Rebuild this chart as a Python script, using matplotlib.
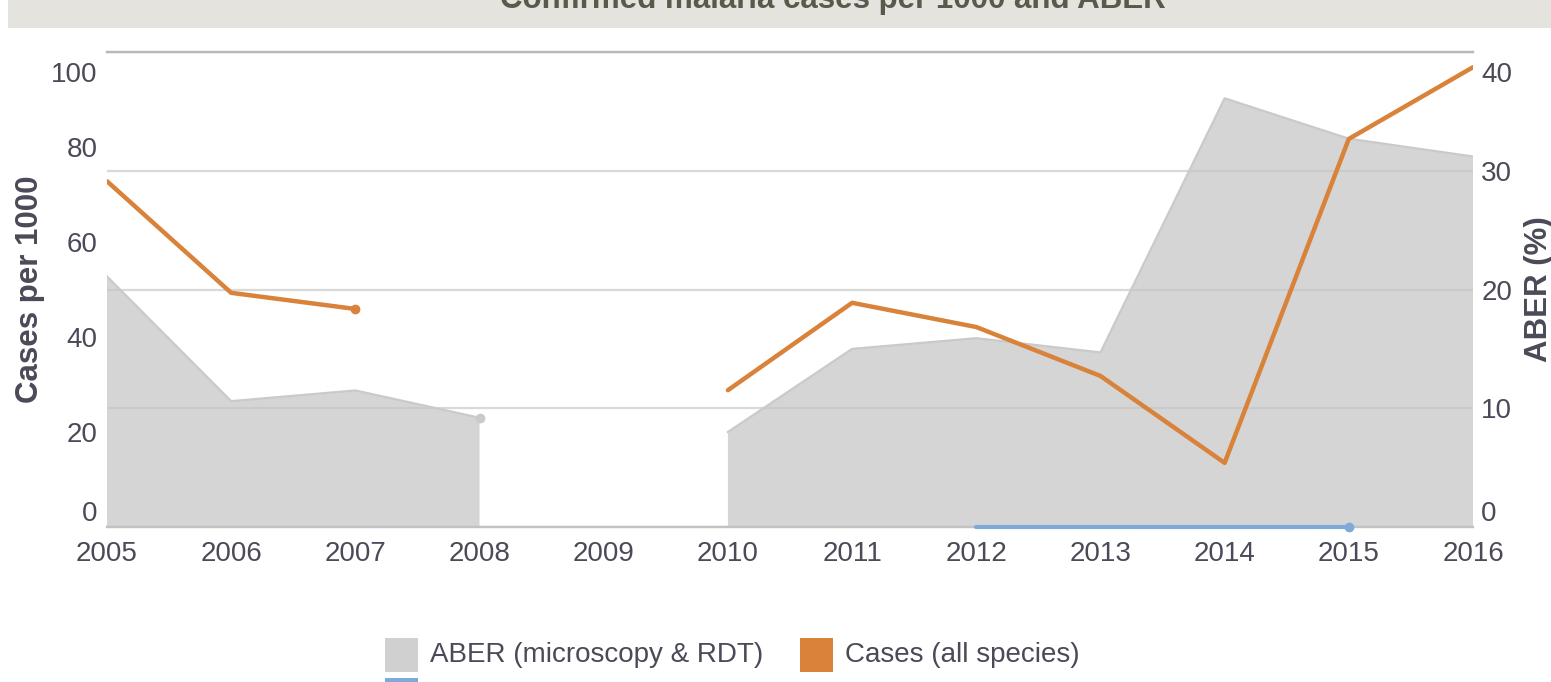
import numpy as np
import matplotlib
matplotlib.use("Agg")
import matplotlib.pyplot as plt
import matplotlib.transforms as mtransforms
from matplotlib.patches import Rectangle

plt.rcParams['font.family'] = ['Liberation Sans', 'DejaVu Sans']

# Données
years = [2005, 2006, 2007, 2008, 2009, 2010, 2011, 2012, 2013, 2014, 2015, 2016]
aber = [21.1, 10.6, 11.5, 9.2, None, 8.0, 15.0, 15.9, 14.7, 36.1, 32.7, 31.2]
cases = [72.8, 49.3, 45.9, None, None, 28.8, 47.2, 42.1, 31.8, 13.5, 81.7, 96.8]
other = [None, None, None, None, None, None, None, 0, 0, 0, 0, None]

left_ticks = [0, 20, 40, 60, 80, 100]
right_ticks = [0, 10, 20, 30, 40]

title = "Confirmed malaria cases per 1000 and ABER"
legend_labels = ["ABER (microscopy & RDT)", "Cases (all species)"]

TXT = '#4a4a58'
ORANGE = '#d9823a'
GREY = '#d0d0d0'
BLUE = '#7fa9d8'


def to_arr(vals):
    return np.array([np.nan if v is None else v for v in vals], dtype=float)


W, H = 1551, 682
fig = plt.figure(figsize=(W / 100, H / 100), dpi=100)

# bandeau du titre (coupé en haut comme dans l'original)
fig.patches.append(Rectangle((8 / W, 1 - 28 / H), 1, 28 / H, transform=fig.transFigure,
                             facecolor='#e4e3de', edgecolor='none', zorder=0))
fig.text(833 / W, 1 - 8 / H, title, ha='center', va='baseline', fontsize=22.5,
         fontweight='bold', color='#5a594b')

x0, x1, ytop, ybot = 107, 1473, 52, 527
ax2 = fig.add_axes([x0 / W, 1 - ybot / H, (x1 - x0) / W, (ybot - ytop) / H])
ax = ax2.twinx()
ax.yaxis.tick_left()
ax.yaxis.set_label_position('left')
ax2.yaxis.tick_right()
ax2.yaxis.set_label_position('right')

ax.set_zorder(ax2.get_zorder() + 1)
ax.patch.set_visible(False)

yrs = np.array(years)
a = to_arr(aber)
c = to_arr(cases)
o = to_arr(other)

# ABER (aire, axe droit)
ax2.fill_between(yrs, a, 0, facecolor='#c4c4c4', alpha=0.7, edgecolor='none', zorder=2)
ax2.plot(yrs, a, color='#cacaca', lw=1.6, zorder=3)
ax2.plot([yrs[3]], [a[3]], 'o', color='#cacaca', ms=6, zorder=3)
ax2.set_ylim(0, 40)
ax2.set_yticks(right_ticks)
ax2.yaxis.grid(True, color='#d9d9d9', lw=1.6)
ax2.set_axisbelow(True)

# Cas (ligne, axe gauche)
ax.plot(yrs, c, color=ORANGE, lw=3.2, solid_capstyle='round', zorder=4)
ax.plot([yrs[2]], [c[2]], 'o', color=ORANGE, ms=6, zorder=4)
ax.plot(yrs, o, color=BLUE, lw=3, solid_capstyle='round', zorder=4, clip_on=False)
ax.plot([yrs[10]], [o[10]], 'o', color=BLUE, ms=6, zorder=4, clip_on=False)
ax.set_ylim(0, 100)
ax.set_yticks(left_ticks)

ax2.set_xlim(2005, 2016)
ax2.set_xticks(years)

for axis in (ax, ax2):
    for s in ('left', 'right'):
        axis.spines[s].set_visible(False)
    axis.spines['top'].set_color('#b8b8b8')
    axis.spines['top'].set_linewidth(1.6)
    axis.spines['bottom'].set_color('#c2c2c2')
    axis.spines['bottom'].set_linewidth(1.6)
    axis.tick_params(length=0, labelsize=20, labelcolor=TXT)

ax.tick_params(axis='y', pad=7)
ax2.tick_params(axis='y', pad=6)
ax2.tick_params(axis='x', pad=10)

# les étiquettes extrêmes restent dans la zone du graphique
for axis in (ax, ax2):
    labs = axis.get_yticklabels()
    labs[0].set_va('bottom')
    labs[-1].set_va('top')
    labs[-1].set_transform(mtransforms.offset_copy(labs[-1].get_transform(), fig=fig,
                                                   x=0, y=-10, units='dots'))

ax.set_ylabel("Cases per 1000", fontsize=22.5, fontweight='bold', color=TXT)
ax.yaxis.set_label_coords((30 - x0) / (x1 - x0), 0.5)
ax2.set_ylabel("ABER (%)", fontsize=22.5, fontweight='bold', color=TXT, rotation=90)
ax2.yaxis.set_label_coords((1539 - x0) / (x1 - x0), 0.5)
ax2.yaxis.label.set_va('center')
ax.yaxis.label.set_va('center')

# légende
sq = 33
items = [(385, GREY, legend_labels[0]), (800, ORANGE, legend_labels[1])]
for lx, col, lab in items:
    fig.patches.append(Rectangle((lx / W, 1 - 672 / H), sq / W, 34 / H, transform=fig.transFigure,
                                 facecolor=col, edgecolor='none'))
    fig.text((lx + 45) / W, 1 - 655 / H, lab, ha='left', va='center', fontsize=20, color=TXT)
fig.patches.append(Rectangle((385 / W, 1 - 700 / H), sq / W, 22 / H, transform=fig.transFigure,
                             facecolor=BLUE, edgecolor='none'))

fig.savefig("out.png", dpi=100)
